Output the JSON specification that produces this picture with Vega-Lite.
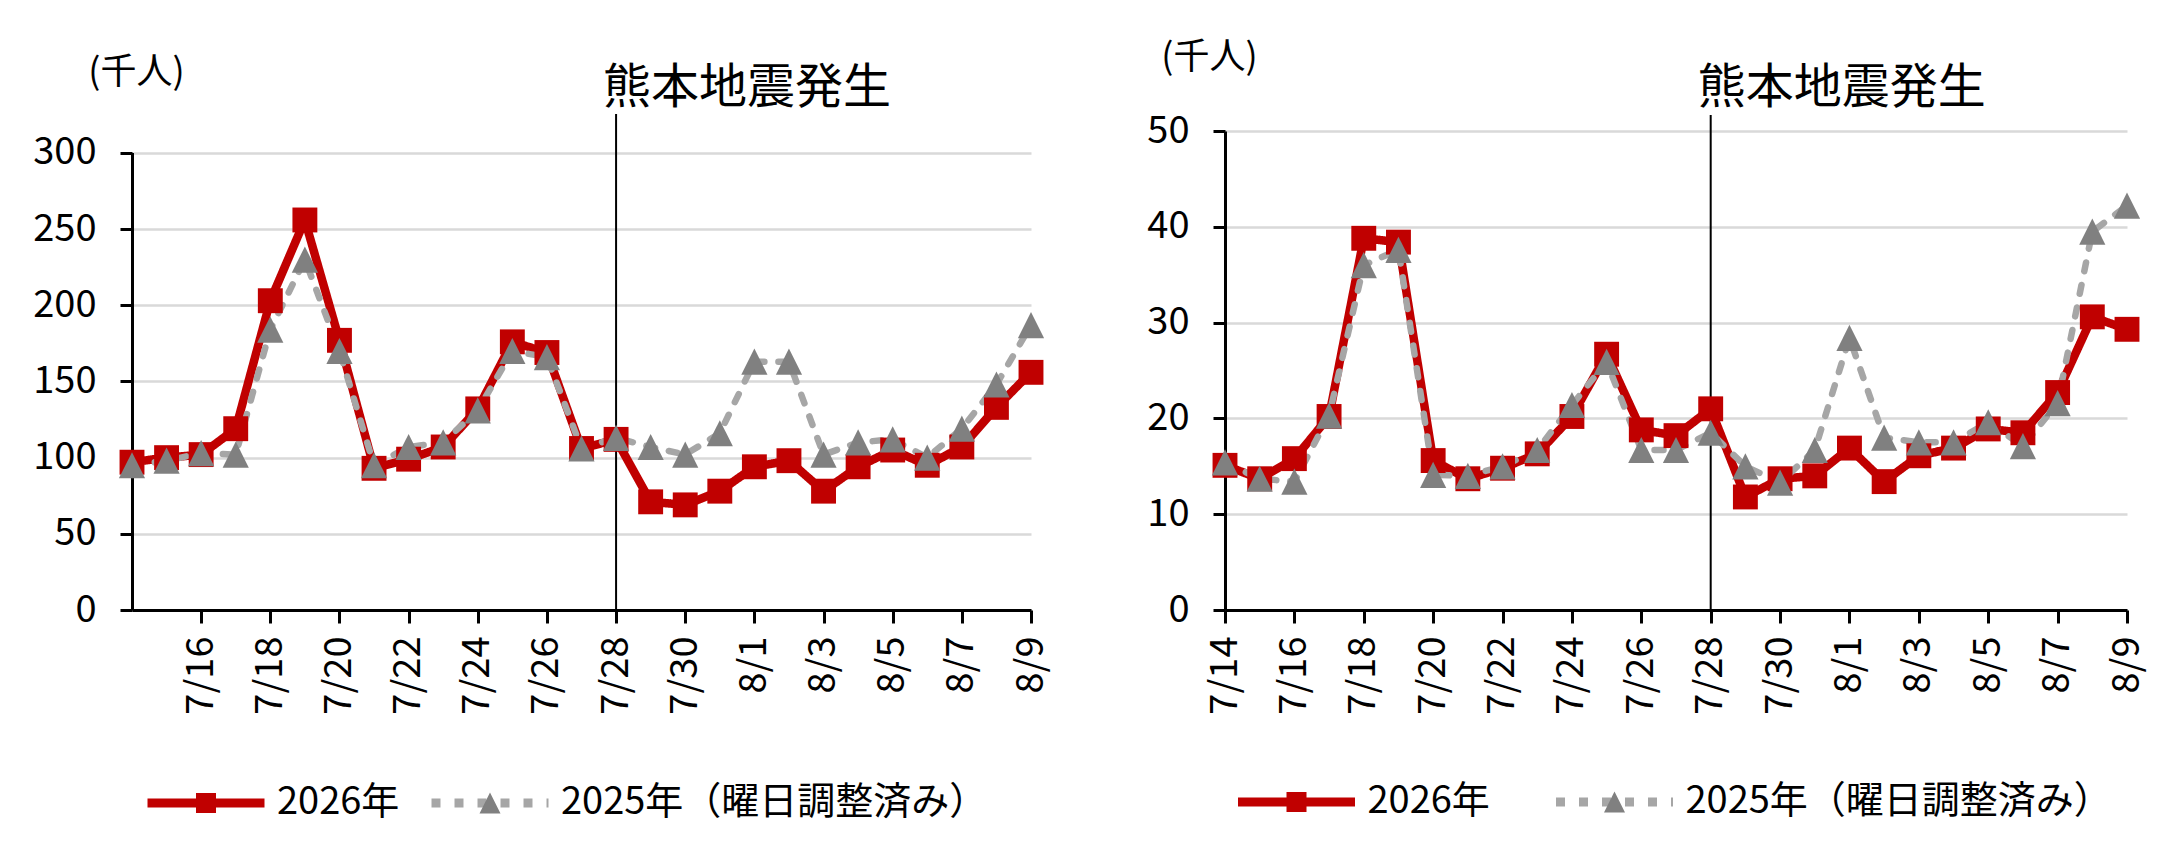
{
  "$schema": "https://vega.github.io/schema/vega-lite/v6.json",
  "padding": {"left": 32, "top": 39, "right": 5, "bottom": 5},
  "background": "white",
  "config": {
    "view": {"stroke": null},
    "font": "Noto Sans CJK JP",
    "text": {"font": "Noto Sans CJK JP"},
    "axis": {"labelFont": "Noto Sans CJK JP", "titleFont": "Noto Sans CJK JP"},
    "legend": {"labelFont": "Noto Sans CJK JP"}
  },
  "datasets": {
    "left": [
      {"date":"7/14","series":"2026年","value":97},{"date":"7/15","series":"2026年","value":100},{"date":"7/16","series":"2026年","value":102},{"date":"7/17","series":"2026年","value":119},{"date":"7/18","series":"2026年","value":203},{"date":"7/19","series":"2026年","value":256},{"date":"7/20","series":"2026年","value":177},{"date":"7/21","series":"2026年","value":93},{"date":"7/22","series":"2026年","value":99},{"date":"7/23","series":"2026年","value":107},{"date":"7/24","series":"2026年","value":132},{"date":"7/25","series":"2026年","value":176},{"date":"7/26","series":"2026年","value":169},{"date":"7/27","series":"2026年","value":106},{"date":"7/28","series":"2026年","value":112},{"date":"7/29","series":"2026年","value":71},{"date":"7/30","series":"2026年","value":69},{"date":"7/31","series":"2026年","value":78},{"date":"8/1","series":"2026年","value":94},{"date":"8/2","series":"2026年","value":98},{"date":"8/3","series":"2026年","value":78},{"date":"8/4","series":"2026年","value":94},{"date":"8/5","series":"2026年","value":105},{"date":"8/6","series":"2026年","value":95},{"date":"8/7","series":"2026年","value":107},{"date":"8/8","series":"2026年","value":133},{"date":"8/9","series":"2026年","value":156},
      {"date":"7/14","series":"2025年（曜日調整済み）","value":95},{"date":"7/15","series":"2025年（曜日調整済み）","value":98},{"date":"7/16","series":"2025年（曜日調整済み）","value":103},{"date":"7/17","series":"2025年（曜日調整済み）","value":102},{"date":"7/18","series":"2025年（曜日調整済み）","value":184},{"date":"7/19","series":"2025年（曜日調整済み）","value":230},{"date":"7/20","series":"2025年（曜日調整済み）","value":170},{"date":"7/21","series":"2025年（曜日調整済み）","value":95},{"date":"7/22","series":"2025年（曜日調整済み）","value":107},{"date":"7/23","series":"2025年（曜日調整済み）","value":110},{"date":"7/24","series":"2025年（曜日調整済み）","value":131},{"date":"7/25","series":"2025年（曜日調整済み）","value":170},{"date":"7/26","series":"2025年（曜日調整済み）","value":166},{"date":"7/27","series":"2025年（曜日調整済み）","value":106},{"date":"7/28","series":"2025年（曜日調整済み）","value":113},{"date":"7/29","series":"2025年（曜日調整済み）","value":107},{"date":"7/30","series":"2025年（曜日調整済み）","value":102},{"date":"7/31","series":"2025年（曜日調整済み）","value":116},{"date":"8/1","series":"2025年（曜日調整済み）","value":163},{"date":"8/2","series":"2025年（曜日調整済み）","value":163},{"date":"8/3","series":"2025年（曜日調整済み）","value":102},{"date":"8/4","series":"2025年（曜日調整済み）","value":110},{"date":"8/5","series":"2025年（曜日調整済み）","value":112},{"date":"8/6","series":"2025年（曜日調整済み）","value":100},{"date":"8/7","series":"2025年（曜日調整済み）","value":119},{"date":"8/8","series":"2025年（曜日調整済み）","value":148},{"date":"8/9","series":"2025年（曜日調整済み）","value":187}
    ],
    "right": [
      {"date":"7/14","series":"2026年","value":15.1},{"date":"7/15","series":"2026年","value":13.7},{"date":"7/16","series":"2026年","value":15.8},{"date":"7/17","series":"2026年","value":20.2},{"date":"7/18","series":"2026年","value":38.8},{"date":"7/19","series":"2026年","value":38.4},{"date":"7/20","series":"2026年","value":15.6},{"date":"7/21","series":"2026年","value":13.7},{"date":"7/22","series":"2026年","value":14.8},{"date":"7/23","series":"2026年","value":16.3},{"date":"7/24","series":"2026年","value":20.2},{"date":"7/25","series":"2026年","value":26.7},{"date":"7/26","series":"2026年","value":18.8},{"date":"7/27","series":"2026年","value":18.2},{"date":"7/28","series":"2026年","value":21.0},{"date":"7/29","series":"2026年","value":11.8},{"date":"7/30","series":"2026年","value":13.7},{"date":"7/31","series":"2026年","value":14.0},{"date":"8/1","series":"2026年","value":16.9},{"date":"8/2","series":"2026年","value":13.4},{"date":"8/3","series":"2026年","value":16.1},{"date":"8/4","series":"2026年","value":16.9},{"date":"8/5","series":"2026年","value":18.9},{"date":"8/6","series":"2026年","value":18.5},{"date":"8/7","series":"2026年","value":22.7},{"date":"8/8","series":"2026年","value":30.6},{"date":"8/9","series":"2026年","value":29.3},
      {"date":"7/14","series":"2025年（曜日調整済み）","value":15.4},{"date":"7/15","series":"2025年（曜日調整済み）","value":13.7},{"date":"7/16","series":"2025年（曜日調整済み）","value":13.4},{"date":"7/17","series":"2025年（曜日調整済み）","value":20.3},{"date":"7/18","series":"2025年（曜日調整済み）","value":36.0},{"date":"7/19","series":"2025年（曜日調整済み）","value":37.6},{"date":"7/20","series":"2025年（曜日調整済み）","value":14.1},{"date":"7/21","series":"2025年（曜日調整済み）","value":14.0},{"date":"7/22","series":"2025年（曜日調整済み）","value":15.0},{"date":"7/23","series":"2025年（曜日調整済み）","value":16.7},{"date":"7/24","series":"2025年（曜日調整済み）","value":21.4},{"date":"7/25","series":"2025年（曜日調整済み）","value":25.9},{"date":"7/26","series":"2025年（曜日調整済み）","value":16.7},{"date":"7/27","series":"2025年（曜日調整済み）","value":16.7},{"date":"7/28","series":"2025年（曜日調整済み）","value":18.5},{"date":"7/29","series":"2025年（曜日調整済み）","value":15.0},{"date":"7/30","series":"2025年（曜日調整済み）","value":13.3},{"date":"7/31","series":"2025年（曜日調整済み）","value":16.7},{"date":"8/1","series":"2025年（曜日調整済み）","value":28.4},{"date":"8/2","series":"2025年（曜日調整済み）","value":18.0},{"date":"8/3","series":"2025年（曜日調整済み）","value":17.5},{"date":"8/4","series":"2025年（曜日調整済み）","value":17.5},{"date":"8/5","series":"2025年（曜日調整済み）","value":19.6},{"date":"8/6","series":"2025年（曜日調整済み）","value":17.1},{"date":"8/7","series":"2025年（曜日調整済み）","value":21.6},{"date":"8/8","series":"2025年（曜日調整済み）","value":39.5},{"date":"8/9","series":"2025年（曜日調整済み）","value":42.2}
    ]
  },
  "bounds": "flush",
  "spacing": 194,
  "resolve": {"scale": {"color": "independent", "shape": "independent", "stroke": "independent", "strokeDash": "independent"}},
  "hconcat": [
    {
      "width": 899,
      "height": 479,
      "data": {"name": "left"},
      "layer": [
        {
          "transform": [{"filter": "datum.series === '2026年'"}],
          "mark": {"type": "line", "strokeWidth": 8.5, "strokeCap": "round", "strokeJoin": "round"},
          "encoding": {
            "x": {"field": "date", "type": "ordinal", "scale": {"type": "point", "padding": 0, "domain": ["7/14","7/15","7/16","7/17","7/18","7/19","7/20","7/21","7/22","7/23","7/24","7/25","7/26","7/27","7/28","7/29","7/30","7/31","8/1","8/2","8/3","8/4","8/5","8/6","8/7","8/8","8/9"]},
              "axis": {"values": ["7/14","7/16","7/18","7/20","7/22","7/24","7/26","7/28","7/30","8/1","8/3","8/5","8/7","8/9"], "title": null, "labelAngle": -90, "labelFontSize": 38, "labelColor": "#000000", "labelPadding": 13, "labelOverlap": false, "labelBound": false, "labelFlush": false, "zindex": 1, "tickSize": 13, "tickWidth": 3, "tickColor": "#000000", "domainWidth": 3, "domainColor": "#000000", "grid": false}},
            "y": {"field": "value", "type": "quantitative", "scale": {"domain": [0, 314.4], "nice": false, "zero": false},
              "axis": {"values": [0, 50, 100, 150, 200, 250, 300], "title": "(千人)", "titleAngle": 0, "titleAlign": "center", "titleBaseline": "middle", "titleX": 4, "titleY": -59, "titleFontSize": 36, "titleFontWeight": "normal", "titleColor": "#000000", "domain": true, "domainWidth": 3, "domainColor": "#000000", "domainDash": [457.5, 60], "grid": true, "gridColor": "#d9d9d9", "gridWidth": 2.5, "tickSize": 12, "tickWidth": 3, "tickColor": "#000000", "labelFontSize": 38, "labelColor": "#000000", "labelPadding": 24}},
            "stroke": {"field": "series", "type": "nominal", "scale": {"domain": ["2026年", "2025年（曜日調整済み）"], "range": ["#c00000", "#a6a6a6"]},
              "legend": {"orient": "none", "legendX": 11, "legendY": 657, "direction": "horizontal", "title": null, "padding": 0, "symbolType": "stroke", "symbolSize": 13689, "symbolStrokeWidth": 9, "symbolOpacity": 1, "clipHeight": 30, "labelFontSize": 38, "labelColor": "#000000", "labelOffset": 8, "labelLimit": 1000, "columnPadding": 27}},
            "strokeDash": {"field": "series", "type": "nominal", "scale": {"domain": ["2026年", "2025年（曜日調整済み）"], "range": [[1, 0], [9, 14]]},
              "legend": {"orient": "none", "legendX": 11, "legendY": 657, "direction": "horizontal", "title": null, "padding": 0, "symbolType": "stroke", "symbolSize": 13689, "symbolStrokeWidth": 9, "symbolOpacity": 1, "clipHeight": 30, "labelFontSize": 38, "labelColor": "#000000", "labelOffset": 8, "labelLimit": 1000, "columnPadding": 27}}
          }
        },
        {
          "transform": [{"filter": "datum.series !== '2026年'"}],
          "mark": {"type": "line", "strokeWidth": 6.5, "strokeCap": "round", "strokeJoin": "round"},
          "encoding": {
            "x": {"field": "date", "type": "ordinal", "scale": {"type": "point", "padding": 0, "domain": ["7/14","7/15","7/16","7/17","7/18","7/19","7/20","7/21","7/22","7/23","7/24","7/25","7/26","7/27","7/28","7/29","7/30","7/31","8/1","8/2","8/3","8/4","8/5","8/6","8/7","8/8","8/9"]}},
            "y": {"field": "value", "type": "quantitative", "scale": {"domain": [0, 314.4], "nice": false, "zero": false}},
            "stroke": {"field": "series", "type": "nominal", "scale": {"domain": ["2026年", "2025年（曜日調整済み）"], "range": ["#c00000", "#a6a6a6"]},
              "legend": {"orient": "none", "legendX": 11, "legendY": 657, "direction": "horizontal", "title": null, "padding": 0, "symbolType": "stroke", "symbolSize": 13689, "symbolStrokeWidth": 9, "symbolOpacity": 1, "clipHeight": 30, "labelFontSize": 38, "labelColor": "#000000", "labelOffset": 8, "labelLimit": 1000, "columnPadding": 27}},
            "strokeDash": {"field": "series", "type": "nominal", "scale": {"domain": ["2026年", "2025年（曜日調整済み）"], "range": [[1, 0], [9, 14]]},
              "legend": {"orient": "none", "legendX": 11, "legendY": 657, "direction": "horizontal", "title": null, "padding": 0, "symbolType": "stroke", "symbolSize": 13689, "symbolStrokeWidth": 9, "symbolOpacity": 1, "clipHeight": 30, "labelFontSize": 38, "labelColor": "#000000", "labelOffset": 8, "labelLimit": 1000, "columnPadding": 27}}
          }
        },
        {
          "data": {"values": [{}]},
          "mark": {"type": "rule", "color": "#000000", "strokeWidth": 2},
          "encoding": {
            "x": {"datum": "7/28", "type": "ordinal", "scale": {"type": "point", "padding": 0, "domain": ["7/14","7/15","7/16","7/17","7/18","7/19","7/20","7/21","7/22","7/23","7/24","7/25","7/26","7/27","7/28","7/29","7/30","7/31","8/1","8/2","8/3","8/4","8/5","8/6","8/7","8/8","8/9"]}},
            "y": {"datum": 325.6, "type": "quantitative", "scale": {"domain": [0, 314.4], "nice": false, "zero": false}},
            "y2": {"datum": 0}
          }
        },
        {
          "data": {"values": [{"label": "熊本地震発生"}]},
          "mark": {"type": "text", "align": "left", "baseline": "middle", "dx": -13, "fontSize": 48, "font": "Noto Sans CJK JP", "color": "#000000"},
          "encoding": {
            "x": {"datum": "7/28", "type": "ordinal", "scale": {"type": "point", "padding": 0, "domain": ["7/14","7/15","7/16","7/17","7/18","7/19","7/20","7/21","7/22","7/23","7/24","7/25","7/26","7/27","7/28","7/29","7/30","7/31","8/1","8/2","8/3","8/4","8/5","8/6","8/7","8/8","8/9"]}},
            "y": {"datum": 341.9, "type": "quantitative", "scale": {"domain": [0, 314.4], "nice": false, "zero": false}},
            "text": {"field": "label", "type": "nominal"}
          }
        },
        {
          "mark": {"type": "point", "filled": true, "size": 21200, "opacity": 1},
          "encoding": {
            "x": {"field": "date", "type": "ordinal", "scale": {"type": "point", "padding": 0, "domain": ["7/14","7/15","7/16","7/17","7/18","7/19","7/20","7/21","7/22","7/23","7/24","7/25","7/26","7/27","7/28","7/29","7/30","7/31","8/1","8/2","8/3","8/4","8/5","8/6","8/7","8/8","8/9"]}},
            "y": {"field": "value", "type": "quantitative", "scale": {"domain": [0, 314.4], "nice": false, "zero": false}},
            "color": {"field": "series", "type": "nominal", "sort": "descending", "scale": {"range": ["#c00000", "#808080"]},
              "legend": {"orient": "none", "legendX": 11, "legendY": 657, "direction": "horizontal", "title": null, "padding": 0, "symbolSize": 13689, "symbolStrokeWidth": 9, "symbolStrokeColor": "transparent", "symbolOpacity": 1, "clipHeight": 30, "labelFontSize": 38, "labelColor": "#000000", "labelOpacity": 0, "labelOffset": 8, "labelLimit": 1000, "columnPadding": 27}},
            "shape": {"field": "series", "type": "nominal", "sort": "descending", "scale": {"range": ["M-0.171,-0.171L0.171,-0.171L0.171,0.171L-0.171,0.171Z", "M0,-0.18L0.18,0.18L-0.18,0.18Z"]},
              "legend": {"orient": "none", "legendX": 11, "legendY": 657, "direction": "horizontal", "title": null, "padding": 0, "symbolSize": 13689, "symbolStrokeWidth": 9, "symbolStrokeColor": "transparent", "symbolOpacity": 1, "clipHeight": 30, "labelFontSize": 38, "labelColor": "#000000", "labelOpacity": 0, "labelOffset": 8, "labelLimit": 1000, "columnPadding": 27}}
          }
        }
      ]
    },
    {
      "width": 902,
      "height": 479,
      "data": {"name": "right"},
      "layer": [
        {
          "transform": [{"filter": "datum.series === '2026年'"}],
          "mark": {"type": "line", "strokeWidth": 8.5, "strokeCap": "round", "strokeJoin": "round"},
          "encoding": {
            "x": {"field": "date", "type": "ordinal", "scale": {"type": "point", "padding": 0, "domain": ["7/14","7/15","7/16","7/17","7/18","7/19","7/20","7/21","7/22","7/23","7/24","7/25","7/26","7/27","7/28","7/29","7/30","7/31","8/1","8/2","8/3","8/4","8/5","8/6","8/7","8/8","8/9"]},
              "axis": {"values": ["7/14","7/16","7/18","7/20","7/22","7/24","7/26","7/28","7/30","8/1","8/3","8/5","8/7","8/9"], "title": null, "labelAngle": -90, "labelFontSize": 38, "labelColor": "#000000", "labelPadding": 13, "labelOverlap": false, "labelBound": false, "labelFlush": false, "zindex": 1, "tickSize": 13, "tickWidth": 3, "tickColor": "#000000", "domainWidth": 3, "domainColor": "#000000", "grid": false}},
            "y": {"field": "value", "type": "quantitative", "scale": {"domain": [0, 50], "nice": false, "zero": false},
              "axis": {"values": [0, 10, 20, 30, 40, 50], "title": "(千人)", "titleAngle": 0, "titleAlign": "center", "titleBaseline": "middle", "titleX": -16, "titleY": -74, "titleFontSize": 36, "titleFontWeight": "normal", "titleColor": "#000000", "domain": true, "domainWidth": 3, "domainColor": "#000000", "grid": true, "gridColor": "#d9d9d9", "gridWidth": 2.5, "tickSize": 12, "tickWidth": 3, "tickColor": "#000000", "labelFontSize": 38, "labelColor": "#000000", "labelPadding": 24}},
            "stroke": {"field": "series", "type": "nominal", "scale": {"domain": ["2026年", "2025年（曜日調整済み）"], "range": ["#c00000", "#a6a6a6"]},
              "legend": {"orient": "none", "legendX": 8.5, "legendY": 656, "direction": "horizontal", "title": null, "padding": 0, "symbolType": "stroke", "symbolSize": 13689, "symbolStrokeWidth": 9, "symbolOpacity": 1, "clipHeight": 30, "labelFontSize": 38, "labelColor": "#000000", "labelOffset": 8, "labelLimit": 1000, "columnPadding": 61}},
            "strokeDash": {"field": "series", "type": "nominal", "scale": {"domain": ["2026年", "2025年（曜日調整済み）"], "range": [[1, 0], [9, 14]]},
              "legend": {"orient": "none", "legendX": 8.5, "legendY": 656, "direction": "horizontal", "title": null, "padding": 0, "symbolType": "stroke", "symbolSize": 13689, "symbolStrokeWidth": 9, "symbolOpacity": 1, "clipHeight": 30, "labelFontSize": 38, "labelColor": "#000000", "labelOffset": 8, "labelLimit": 1000, "columnPadding": 61}}
          }
        },
        {
          "transform": [{"filter": "datum.series !== '2026年'"}],
          "mark": {"type": "line", "strokeWidth": 6.5, "strokeCap": "round", "strokeJoin": "round"},
          "encoding": {
            "x": {"field": "date", "type": "ordinal", "scale": {"type": "point", "padding": 0, "domain": ["7/14","7/15","7/16","7/17","7/18","7/19","7/20","7/21","7/22","7/23","7/24","7/25","7/26","7/27","7/28","7/29","7/30","7/31","8/1","8/2","8/3","8/4","8/5","8/6","8/7","8/8","8/9"]}},
            "y": {"field": "value", "type": "quantitative", "scale": {"domain": [0, 50], "nice": false, "zero": false}},
            "stroke": {"field": "series", "type": "nominal", "scale": {"domain": ["2026年", "2025年（曜日調整済み）"], "range": ["#c00000", "#a6a6a6"]},
              "legend": {"orient": "none", "legendX": 8.5, "legendY": 656, "direction": "horizontal", "title": null, "padding": 0, "symbolType": "stroke", "symbolSize": 13689, "symbolStrokeWidth": 9, "symbolOpacity": 1, "clipHeight": 30, "labelFontSize": 38, "labelColor": "#000000", "labelOffset": 8, "labelLimit": 1000, "columnPadding": 61}},
            "strokeDash": {"field": "series", "type": "nominal", "scale": {"domain": ["2026年", "2025年（曜日調整済み）"], "range": [[1, 0], [9, 14]]},
              "legend": {"orient": "none", "legendX": 8.5, "legendY": 656, "direction": "horizontal", "title": null, "padding": 0, "symbolType": "stroke", "symbolSize": 13689, "symbolStrokeWidth": 9, "symbolOpacity": 1, "clipHeight": 30, "labelFontSize": 38, "labelColor": "#000000", "labelOffset": 8, "labelLimit": 1000, "columnPadding": 61}}
          }
        },
        {
          "data": {"values": [{}]},
          "mark": {"type": "rule", "color": "#000000", "strokeWidth": 2},
          "encoding": {
            "x": {"datum": "7/28", "type": "ordinal", "scale": {"type": "point", "padding": 0, "domain": ["7/14","7/15","7/16","7/17","7/18","7/19","7/20","7/21","7/22","7/23","7/24","7/25","7/26","7/27","7/28","7/29","7/30","7/31","8/1","8/2","8/3","8/4","8/5","8/6","8/7","8/8","8/9"]}},
            "y": {"datum": 51.67, "type": "quantitative", "scale": {"domain": [0, 50], "nice": false, "zero": false}},
            "y2": {"datum": 0}
          }
        },
        {
          "data": {"values": [{"label": "熊本地震発生"}]},
          "mark": {"type": "text", "align": "left", "baseline": "middle", "dx": -13, "fontSize": 48, "font": "Noto Sans CJK JP", "color": "#000000"},
          "encoding": {
            "x": {"datum": "7/28", "type": "ordinal", "scale": {"type": "point", "padding": 0, "domain": ["7/14","7/15","7/16","7/17","7/18","7/19","7/20","7/21","7/22","7/23","7/24","7/25","7/26","7/27","7/28","7/29","7/30","7/31","8/1","8/2","8/3","8/4","8/5","8/6","8/7","8/8","8/9"]}},
            "y": {"datum": 54.4, "type": "quantitative", "scale": {"domain": [0, 50], "nice": false, "zero": false}},
            "text": {"field": "label", "type": "nominal"}
          }
        },
        {
          "mark": {"type": "point", "filled": true, "size": 21200, "opacity": 1},
          "encoding": {
            "x": {"field": "date", "type": "ordinal", "scale": {"type": "point", "padding": 0, "domain": ["7/14","7/15","7/16","7/17","7/18","7/19","7/20","7/21","7/22","7/23","7/24","7/25","7/26","7/27","7/28","7/29","7/30","7/31","8/1","8/2","8/3","8/4","8/5","8/6","8/7","8/8","8/9"]}},
            "y": {"field": "value", "type": "quantitative", "scale": {"domain": [0, 50], "nice": false, "zero": false}},
            "color": {"field": "series", "type": "nominal", "sort": "descending", "scale": {"range": ["#c00000", "#808080"]},
              "legend": {"orient": "none", "legendX": 8.5, "legendY": 656, "direction": "horizontal", "title": null, "padding": 0, "symbolSize": 13689, "symbolStrokeWidth": 9, "symbolStrokeColor": "transparent", "symbolOpacity": 1, "clipHeight": 30, "labelFontSize": 38, "labelColor": "#000000", "labelOpacity": 0, "labelOffset": 8, "labelLimit": 1000, "columnPadding": 61}},
            "shape": {"field": "series", "type": "nominal", "sort": "descending", "scale": {"range": ["M-0.171,-0.171L0.171,-0.171L0.171,0.171L-0.171,0.171Z", "M0,-0.18L0.18,0.18L-0.18,0.18Z"]},
              "legend": {"orient": "none", "legendX": 8.5, "legendY": 656, "direction": "horizontal", "title": null, "padding": 0, "symbolSize": 13689, "symbolStrokeWidth": 9, "symbolStrokeColor": "transparent", "symbolOpacity": 1, "clipHeight": 30, "labelFontSize": 38, "labelColor": "#000000", "labelOpacity": 0, "labelOffset": 8, "labelLimit": 1000, "columnPadding": 61}}
          }
        }
      ]
    }
  ]
}
